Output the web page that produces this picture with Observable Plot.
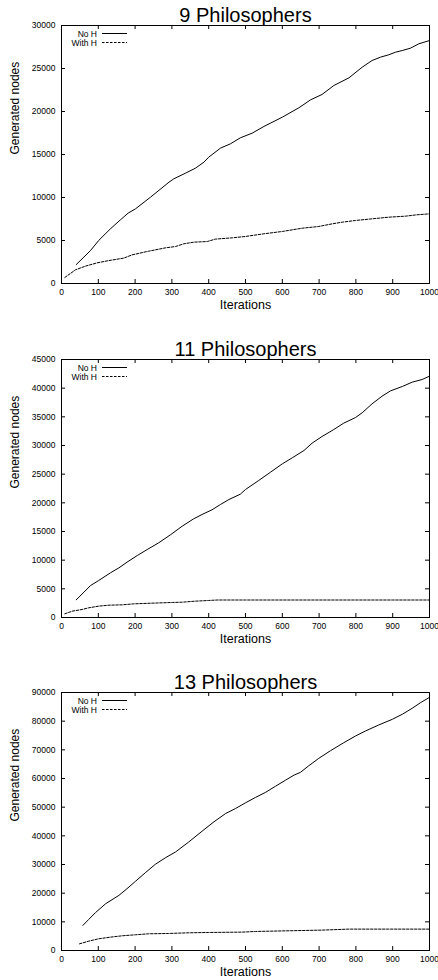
<!DOCTYPE html>
<html><head><meta charset="utf-8">
<script src="https://cdn.jsdelivr.net/npm/d3@7"></script>
<script src="https://cdn.jsdelivr.net/npm/@observablehq/plot@0.6"></script>
<style>
body{margin:0;background:#fff}
#c{position:relative;width:438px;height:980px;overflow:hidden;background:#fff}
#c svg{position:absolute;left:0}
</style>
</head><body><div id="c"></div>
<script>
// ---- data ----
const titles = ["9 Philosophers", "11 Philosophers", "13 Philosophers"];
const seriesNames = ["No H", "With H"];
const xLabel = "Iterations";
const yLabel = "Generated nodes";
const iterTicks = [0, 100, 200, 300, 400, 500, 600, 700, 800, 900, 1000];
const yTicks9 = [0, 5000, 10000, 15000, 20000, 25000, 30000];
const yTicks11 = [0, 5000, 10000, 15000, 20000, 25000, 30000, 35000, 40000, 45000];
const yTicks13 = [0, 10000, 20000, 30000, 40000, 50000, 60000, 70000, 80000, 90000];

// [iterations, generated nodes]
const phil9NoH = [[40,2200],[79,3840],[101,5000],[133,6360],[160,7400],[181,8180],[201,8680],[242,10040],[292,11780],[305,12170],[337,12830],[364,13410],[387,14110],[400,14690],[432,15740],[459,16240],[486,16940],[518,17480],[550,18260],[600,19340],[645,20430],[677,21360],[708,21980],[740,23020],[781,23910],[817,25150],[844,25930],[867,26320],[889,26590],[908,26900],[926,27090],[948,27360],[971,27870],[1000,28250]];
const phil9WithH = [[9,700],[38,1590],[65,2020],[97,2400],[129,2670],[169,2950],[192,3330],[237,3760],[283,4150],[310,4300],[332,4610],[360,4810],[396,4880],[418,5160],[464,5310],[500,5470],[550,5780],[600,6050],[654,6430],[699,6630],[736,6940],[763,7130],[799,7330],[844,7520],[889,7710],[935,7830],[966,7990],[1000,8100]];
const phil11NoH = [[40,3080],[61,4420],[79,5580],[101,6450],[133,7790],[156,8660],[178,9650],[206,10810],[233,11860],[264,13020],[296,14420],[328,15930],[359,17210],[382,17970],[409,18780],[432,19710],[455,20580],[486,21510],[500,22330],[536,23900],[568,25350],[600,26800],[627,27850],[659,29130],[681,30410],[708,31570],[740,32790],[767,33900],[799,34880],[817,35700],[844,37270],[871,38600],[894,39530],[926,40290],[953,41050],[980,41510],[1000,42090]];
const phil11WithH = [[9,640],[29,1100],[56,1400],[74,1690],[101,1980],[129,2150],[165,2210],[196,2380],[246,2500],[301,2620],[328,2670],[364,2850],[400,2970],[423,3050],[500,3050],[600,3050],[700,3050],[800,3050],[900,3050],[1000,3050]];
const phil13NoH = [[58,8740],[74,10840],[92,13170],[120,16320],[156,19230],[178,21560],[201,24130],[228,27160],[255,30070],[283,32400],[310,34380],[346,37880],[382,41610],[414,44870],[446,47790],[473,49530],[500,51520],[527,53380],[554,55130],[582,57340],[609,59440],[632,61190],[649,62120],[672,64450],[699,67020],[731,69700],[767,72490],[799,74830],[826,76570],[862,78670],[899,80650],[926,82400],[953,84500],[976,86480],[1000,88300]];
const phil13WithH = [[49,2330],[74,3260],[101,4080],[133,4660],[165,5130],[201,5480],[237,5830],[291,5940],[346,6180],[400,6290],[491,6410],[527,6640],[618,6880],[708,7110],[781,7460],[889,7460],[1000,7460]];

// ---- layout ----
const W = 438, H = 313, ML = 61, MR = 9, MT = 25, MB = 30;
const IW = W - ML - MR, IH = H - MT - MB;
const FONT = "Liberation Sans, Arial, Helvetica, sans-serif";
const panels = [
  {title: titles[0], noH: phil9NoH, withH: phil9WithH, yTicks: yTicks9, top: 0},
  {title: titles[1], noH: phil11NoH, withH: phil11WithH, yTicks: yTicks11, top: 334},
  {title: titles[2], noH: phil13NoH, withH: phil13WithH, yTicks: yTicks13, top: 667}
];
const container = document.getElementById("c");

for (const p of panels) {
  const yMax = p.yTicks[p.yTicks.length - 1];
  const svg = Plot.plot({
    width: W, height: H,
    marginLeft: ML, marginRight: MR, marginTop: MT, marginBottom: MB,
    style: {fontFamily: FONT, background: "white", color: "black"},
    x: {domain: [0, 1000]},
    y: {domain: [0, yMax]},
    marks: [
      Plot.line(p.noH, {x: d => d[0], y: d => d[1], stroke: "black", strokeWidth: 1}),
      Plot.line(p.withH, {x: d => d[0], y: d => d[1], stroke: "black", strokeWidth: 1, strokeDasharray: "2.5,1.5"}),
      Plot.ruleY(p.yTicks, {y: d => d, insetRight: IW - 4, stroke: "black"}),
      Plot.ruleY(p.yTicks, {y: d => d, insetLeft: IW - 4, stroke: "black"}),
      Plot.ruleX(iterTicks, {x: d => d, insetTop: IH - 4, stroke: "black"}),
      Plot.ruleX(iterTicks, {x: d => d, insetBottom: IH - 4, stroke: "black"}),
      Plot.frame({stroke: "black", strokeWidth: 1}),
      Plot.axisX(iterTicks, {tickSize: 0, tickPadding: 5, fontSize: 8.5, label: null, tickFormat: "d"}),
      Plot.axisY(p.yTicks, {tickSize: 0, tickPadding: 6, fontSize: 8.5, label: null, tickFormat: "d"}),
      Plot.text([p.title], {frameAnchor: "top", dy: -4, lineAnchor: "bottom", fontSize: 20}),
      Plot.text([xLabel], {frameAnchor: "bottom", dy: 25, lineAnchor: "bottom", fontSize: 12.5}),
      Plot.text([yLabel], {frameAnchor: "left", dx: -46, rotate: -90, fontSize: 12})
    ]
  });
  svg.style.top = p.top + "px";
  // legend (top-left inside the frame)
  const g = d3.select(svg).append("g").attr("font-family", FONT).attr("font-size", 8.5);
  seriesNames.forEach((name, i) => {
    const cy = MT + 8.5 + i * 9;
    g.append("text").attr("x", 97).attr("y", cy + 3).attr("text-anchor", "end").attr("fill", "black").text(name);
    g.append("line").attr("x1", 102).attr("x2", 127).attr("y1", cy).attr("y2", cy)
      .attr("stroke", "black").attr("stroke-width", 1)
      .attr("stroke-dasharray", i === 1 ? "2.5,1.5" : null);
  });
  container.appendChild(svg);
}
</script>
</body></html>
